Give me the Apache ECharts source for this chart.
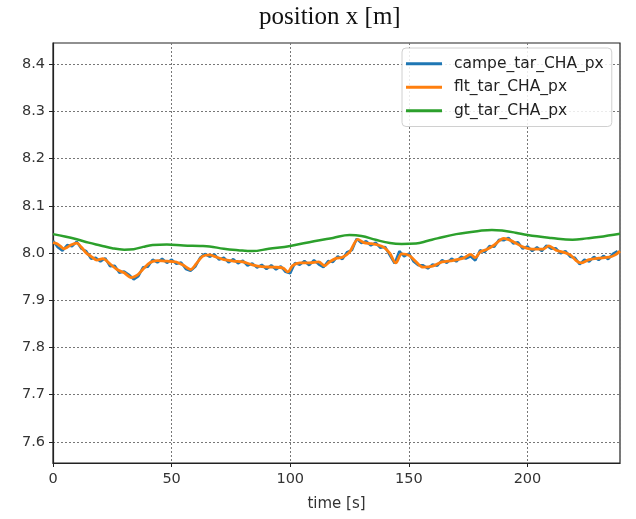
<!DOCTYPE html>
<html>
<head>
<meta charset="utf-8">
<script src="https://cdn.jsdelivr.net/npm/echarts@6/dist/echarts.min.js"></script>
<style>
  html, body { margin: 0; padding: 0; background: #fff; }
  #chart { width: 636px; height: 519px; }
</style>
</head>
<body>
<div id="chart"></div>
<script>
// Camera-based target position (raw, noisy), sampled every 2 s
const campeTime = [];
for (let t = 0; t <= 238; t += 2) campeTime.push(t);
const campeValues = [
  8.026, 8.012, 8.005, 8.017, 8.014, 8.024, 8.009, 8.004, 7.988, 7.990,
  7.982, 7.989, 7.972, 7.973, 7.958, 7.961, 7.954, 7.944, 7.951, 7.970,
  7.971, 7.986, 7.980, 7.988, 7.979, 7.986, 7.977, 7.980, 7.966, 7.962,
  7.971, 7.990, 7.998, 7.992, 7.997, 7.986, 7.990, 7.980, 7.987, 7.978,
  7.984, 7.973, 7.978, 7.969, 7.975, 7.966, 7.974, 7.965, 7.972, 7.960,
  7.957, 7.979, 7.975, 7.983, 7.974, 7.985, 7.976, 7.970, 7.983, 7.981,
  7.993, 7.987, 8.002, 8.006, 8.030, 8.021, 8.025, 8.016, 8.022, 8.011,
  8.013, 7.995, 7.978, 8.004, 7.993, 7.999, 7.982, 7.974, 7.974, 7.967,
  7.976, 7.973, 7.985, 7.979, 7.988, 7.982, 7.992, 7.988, 7.993, 7.984,
  8.006, 8.002, 8.015, 8.013, 8.028, 8.027, 8.032, 8.020, 8.023, 8.009,
  8.014, 8.004, 8.012, 8.004, 8.016, 8.009, 8.010, 7.999, 8.004, 7.992,
  7.990, 7.976, 7.986, 7.982, 7.992, 7.985, 7.994, 7.987, 7.998, 8.004
];

// Filtered target position
const fltTime = [
  0, 1.5, 3, 4.5, 6, 7.5, 10, 12, 14, 16, 18.5, 21, 24, 27, 30, 33, 35.5, 38, 41, 44,
  47, 50, 52, 55, 58, 60.5, 63, 66, 69, 72, 76, 80, 84, 88, 93, 97, 99, 101, 104, 108,
  112, 114.5, 116.5, 119.5, 122, 125, 128.5, 131, 134, 137, 139.5, 142, 144.5, 147, 150,
  152.5, 156, 160, 164, 168.5, 173, 176, 178, 180, 183, 186, 190, 194, 198, 202, 206.5,
  209, 212, 215, 218, 220.5, 222.5, 226, 230, 234.5, 237, 239
];
const fltValues = [
  8.022, 8.020, 8.015, 8.009, 8.012, 8.017, 8.021, 8.012, 8.000, 7.993, 7.985, 7.988,
  7.977, 7.965, 7.958, 7.948, 7.953, 7.966, 7.980, 7.984, 7.983, 7.982, 7.981, 7.974,
  7.965, 7.978, 7.993, 7.996, 7.991, 7.986, 7.983, 7.981, 7.975, 7.971, 7.970, 7.968,
  7.960, 7.973, 7.979, 7.979, 7.981, 7.973, 7.981, 7.989, 7.991, 8.002, 8.029, 8.022,
  8.020, 8.017, 8.012, 7.999, 7.979, 7.998, 7.995, 7.984, 7.970, 7.972, 7.981, 7.984,
  7.989, 7.997, 7.990, 8.002, 8.008, 8.017, 8.031, 8.024, 8.013, 8.008, 8.008, 8.015,
  8.006, 8.002, 7.996, 7.984, 7.979, 7.986, 7.989, 7.991, 7.996, 8.004
];

// Ground-truth target position
const gtTime = [
  0, 5, 10, 15, 20, 25, 30, 34, 38, 42, 48, 55, 62, 66, 72, 78, 84, 91, 100, 110,
  118, 125, 130, 136, 142, 147, 153, 158, 162, 170, 180, 185, 190, 195, 200, 210,
  219, 225, 230, 239
];
const gtValues = [
  8.040, 8.035, 8.029, 8.022, 8.016, 8.010, 8.007, 8.008, 8.013, 8.017, 8.018, 8.016,
  8.015, 8.014, 8.009, 8.006, 8.004, 8.009, 8.015, 8.025, 8.032, 8.038, 8.036, 8.028,
  8.021, 8.019, 8.020, 8.026, 8.031, 8.040, 8.047, 8.049, 8.047, 8.043, 8.038, 8.032,
  8.028, 8.031, 8.034, 8.041
];

const yTicks = [7.6, 7.7, 7.8, 7.9, 8.0, 8.1, 8.2, 8.3, 8.4];
const seriesNames = ['campe_tar_CHA_px', 'flt_tar_CHA_px', 'gt_tar_CHA_px'];
const colors = ['#1f77b4', '#ff7f0e', '#2ca02c'];

const zip = (xs, ys) => xs.map((x, i) => [x, ys[i]]);

const chart = echarts.init(document.getElementById('chart'), null, { renderer: 'canvas' });
const labelFont = { fontFamily: 'DejaVu Sans', fontSize: 14.5, color: '#333' };

chart.setOption({
  animation: false,
  backgroundColor: '#fff',
  title: {
    text: 'position x [m]',
    left: 254,
    top: 0,
    textStyle: { fontFamily: 'Liberation Serif', fontSize: 25, fontWeight: 'normal', color: '#111' }
  },
  legend: {
    orient: 'vertical',
    left: 402,
    top: 48,
    padding: [7, 8, 7, 4],
    itemGap: 6,
    itemWidth: 36,
    itemHeight: 3,
    icon: 'rect',
    backgroundColor: 'rgba(255,255,255,0.85)',
    borderColor: '#d0d0d0',
    borderWidth: 1,
    borderRadius: 4,
    textStyle: { fontFamily: 'DejaVu Sans', fontSize: 15.5, lineHeight: 17.5, color: '#222', padding: [0, 0, 0, 7] },
    data: seriesNames
  },
  grid: { left: 53, right: 16, top: 43, bottom: 56, show: true, borderColor: '#222', borderWidth: 1.2 },
  xAxis: {
    type: 'value',
    min: 0,
    max: 239,
    interval: 50,
    name: 'time [s]',
    nameLocation: 'middle',
    nameGap: 34,
    nameTextStyle: { fontFamily: 'DejaVu Sans', fontSize: 15, color: '#333' },
    axisLine: { lineStyle: { color: '#222', width: 1.2 } },
    axisTick: { show: true, length: 4, lineStyle: { color: '#222' } },
    axisLabel: Object.assign({ margin: 9, showMaxLabel: false }, labelFont),
    splitLine: { show: true, lineStyle: { color: '#777', type: [2, 2], width: 1 } }
  },
  yAxis: {
    type: 'value',
    min: 7.555,
    max: 8.445,
    axisLine: { show: true, lineStyle: { color: '#222', width: 1.2 } },
    axisTick: { show: true, length: 4, customValues: yTicks, lineStyle: { color: '#222' } },
    axisLabel: Object.assign({ margin: 8, customValues: yTicks, formatter: v => v.toFixed(1) }, labelFont),
    splitLine: { show: true, lineStyle: { color: '#777', type: [2, 2], width: 1 } }
  },
  series: [
    {
      name: seriesNames[0], type: 'line', data: zip(campeTime, campeValues),
      showSymbol: false, color: colors[0], lineStyle: { width: 2.5, color: colors[0] }
    },
    {
      name: seriesNames[1], type: 'line', data: zip(fltTime, fltValues), smooth: 0.3,
      showSymbol: false, color: colors[1], lineStyle: { width: 2.8, color: colors[1] }
    },
    {
      name: seriesNames[2], type: 'line', data: zip(gtTime, gtValues), smooth: 0.4,
      showSymbol: false, color: colors[2], lineStyle: { width: 2.5, color: colors[2] }
    }
  ]
});
</script>
</body>
</html>
